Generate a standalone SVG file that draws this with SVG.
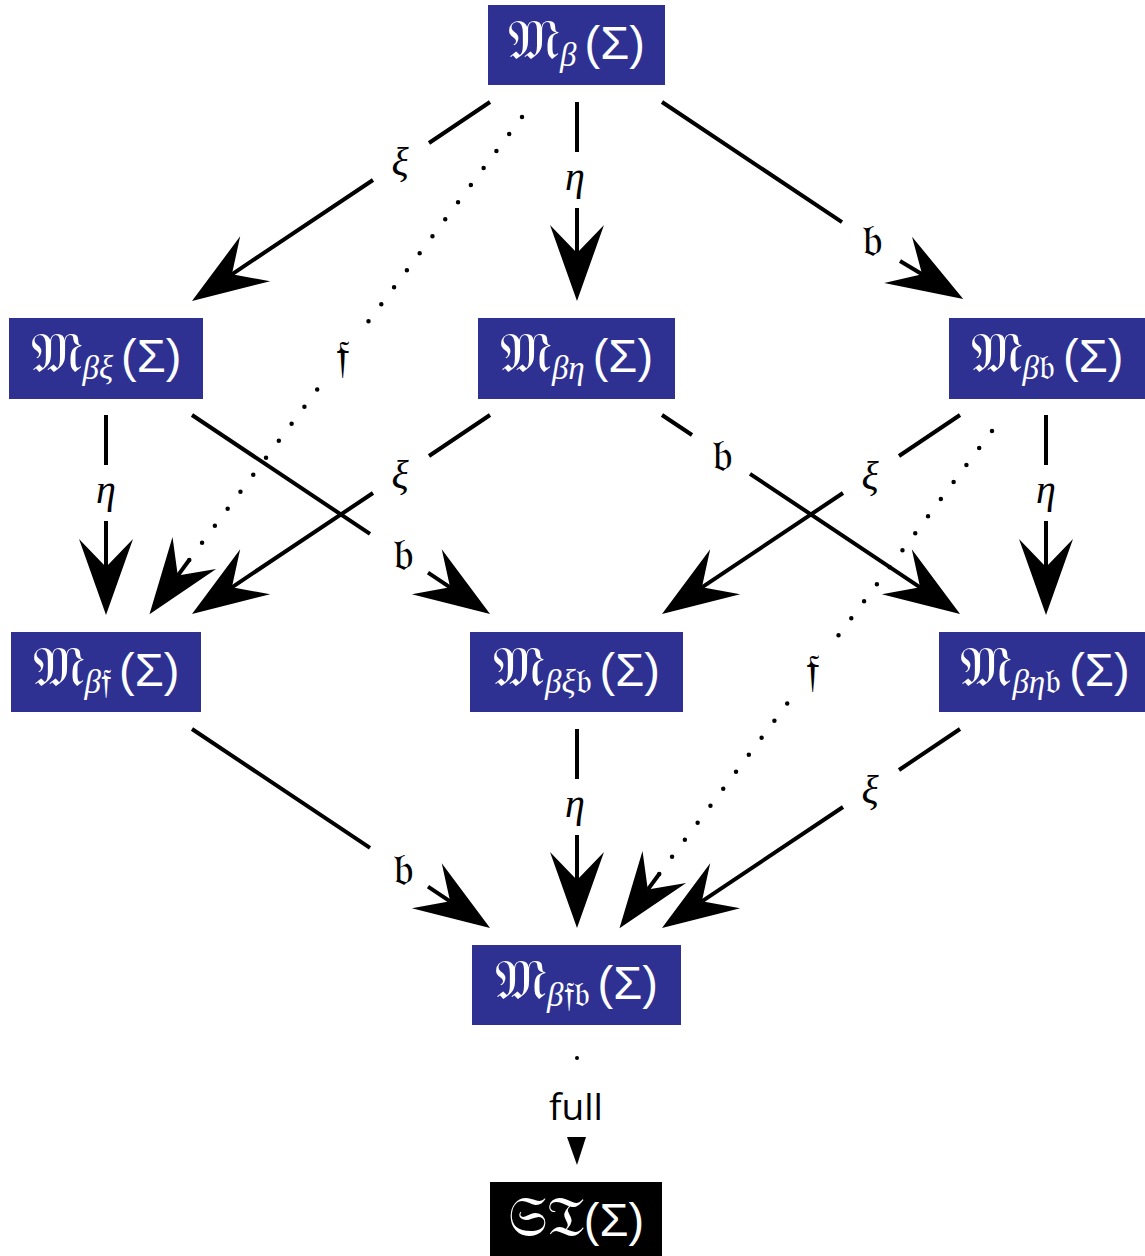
<svg xmlns="http://www.w3.org/2000/svg" width="1145" height="1256" viewBox="0 0 1145 1256">
  <style>
    .box { fill: #2e3192; }
    .box-dark { fill: #000000; }
    .nt { fill: #ffffff; font-family: "DejaVu Serif", "Liberation Serif", serif; font-size: 44px; text-anchor: middle; }
    .frak { font-family: "DejaVu Serif", "DejaVu Sans", serif; font-size: 56px; }
    .sub { font-family: "Liberation Serif", serif; font-style: italic; font-size: 33px; }
    .subf { font-family: "DejaVu Serif", serif; font-size: 35px; font-style: normal; }
    .sig { font-family: "Liberation Sans", sans-serif; font-size: 47px; }
    .edge { fill: none; stroke: #000000; stroke-width: 4; }
    .dots { fill: none; stroke: #000000; stroke-width: 4.5; stroke-linecap: round; stroke-dasharray: 0 21.3; }
    .lbl { font-family: "Liberation Serif", serif; font-style: italic; font-size: 40px; text-anchor: middle; fill: #000000; }
    .lblf { font-family: "DejaVu Serif", serif; font-size: 46px; text-anchor: middle; fill: #000000; }
    .full { font-family: "Open Sans", sans-serif; font-size: 37px; text-anchor: middle; fill: #000000; }
  </style>
  <defs>
    <!-- swallow-tail arrowhead; path end sits at the notch, tip runs 48px further -->
    <marker id="head" markerUnits="userSpaceOnUse" viewBox="-30 -30 80 60" refX="0" refY="0" markerWidth="80" markerHeight="60" orient="auto">
      <path d="M48,0 L-28,-27 L0,0 L-28,27 Z" fill="#000000"/>
    </marker>
  </defs>

  <g id="connectors">
    <!-- row 1 -> row 2 -->
    <path class="edge" d="M490,102 L429,143 M373,180 L231.9,274.3" marker-end="url(#head)"/>
    <path class="edge" d="M577,102 L577,152 M577,208 L577,253" marker-end="url(#head)"/>
    <path class="edge" d="M662,102 L842,222.2 M900,261 L922.1,274.3" marker-end="url(#head)"/>
    <!-- dotted: top -> Mbf -->
    <path class="dots" d="M522,117 L368.4,321.5 M317.2,389.6 L189.2,560"/>
    <path class="edge" d="M189.2,560 L177.8,575.6" stroke="none" marker-end="url(#head)"/>

    <!-- row 2 -> row 3 -->
    <path class="edge" d="M106,415 L106,465 M106,521 L106,567" marker-end="url(#head)"/>
    <path class="edge" d="M192,415 L370,533.9 M428,572.6 L450.1,587.3" marker-end="url(#head)"/>
    <path class="edge" d="M490,415 L429,456 M373,493 L231.9,587.3" marker-end="url(#head)"/>
    <path class="edge" d="M662,415 L692,435 M750,473.8 L920.1,587.3" marker-end="url(#head)"/>
    <path class="edge" d="M960,415 L899,456 M843,493 L701.9,587.3" marker-end="url(#head)"/>
    <path class="edge" d="M1046,415 L1046,465 M1046,521 L1046,567" marker-end="url(#head)"/>
    <!-- dotted: Mbb -> Mbfb -->
    <path class="dots" d="M992,431 L838.4,635.5 M787.2,703.6 L659.2,874"/>
    <path class="edge" d="M659.2,874 L647.8,889.6" stroke="none" marker-end="url(#head)"/>

    <!-- row 3 -> row 4 -->
    <path class="edge" d="M192,729 L370,847.9 M428,886.6 L450.1,901.3" marker-end="url(#head)"/>
    <path class="edge" d="M577,729 L577,779 M577,835 L577,880" marker-end="url(#head)"/>
    <path class="edge" d="M960,729 L899,770 M843,807 L701.9,901.3" marker-end="url(#head)"/>

    <!-- Mbfb -> ST -->
    <path d="M577,1058 L577,1070" fill="none" stroke="#000000" stroke-width="4" stroke-linecap="round" stroke-dasharray="0 40"/>
    <polygon points="567,1137 586,1137 577,1165" fill="#000000"/>

    <!-- edge labels -->
    <text class="lbl" x="400" y="175">ξ</text>
    <text class="lbl" x="575" y="190">η</text>
    <text class="lblf" x="872" y="256">𝔟</text>
    <text class="lblf" x="343" y="372">𝔣</text>
    <text class="lbl" x="106" y="503">η</text>
    <text class="lbl" x="400" y="488">ξ</text>
    <text class="lblf" x="403" y="570">𝔟</text>
    <text class="lblf" x="722" y="471">𝔟</text>
    <text class="lbl" x="870" y="489">ξ</text>
    <text class="lbl" x="1046" y="503">η</text>
    <text class="lblf" x="813" y="686">𝔣</text>
    <text class="lbl" x="575" y="817">η</text>
    <text class="lblf" x="403" y="885">𝔟</text>
    <text class="lbl" x="870" y="803">ξ</text>
    <text class="full" x="576" y="1120">full</text>
  </g>

  <g id="node-mb">
    <rect class="box" x="488" y="5" width="177" height="80"/>
    <text class="nt" x="576.5" y="59"><tspan class="frak">𝔐</tspan><tspan class="sub" dy="7">β</tspan><tspan class="sig" dy="-7" dx="8">(Σ)</tspan></text>
  </g>
  <g id="node-mbxi">
    <rect class="box" x="9" y="318" width="194" height="81"/>
    <text class="nt" x="106" y="372"><tspan class="frak">𝔐</tspan><tspan class="sub" dy="7">βξ</tspan><tspan class="sig" dy="-7" dx="8">(Σ)</tspan></text>
  </g>
  <g id="node-mbeta">
    <rect class="box" x="478" y="318" width="197" height="81"/>
    <text class="nt" x="576.5" y="372"><tspan class="frak">𝔐</tspan><tspan class="sub" dy="7">βη</tspan><tspan class="sig" dy="-7" dx="8">(Σ)</tspan></text>
  </g>
  <g id="node-mbb">
    <rect class="box" x="949" y="318" width="196" height="81"/>
    <text class="nt" x="1047" y="372"><tspan class="frak">𝔐</tspan><tspan class="sub" dy="7">β</tspan><tspan class="subf">𝔟</tspan><tspan class="sig" dy="-7" dx="8">(Σ)</tspan></text>
  </g>
  <g id="node-mbf">
    <rect class="box" x="11" y="632" width="190" height="80"/>
    <text class="nt" x="106" y="686"><tspan class="frak">𝔐</tspan><tspan class="sub" dy="7">β</tspan><tspan class="subf">𝔣</tspan><tspan class="sig" dy="-7" dx="8">(Σ)</tspan></text>
  </g>
  <g id="node-mbxib">
    <rect class="box" x="470" y="632" width="213" height="80"/>
    <text class="nt" x="576.5" y="686"><tspan class="frak">𝔐</tspan><tspan class="sub" dy="7">βξ</tspan><tspan class="subf">𝔟</tspan><tspan class="sig" dy="-7" dx="8">(Σ)</tspan></text>
  </g>
  <g id="node-mbetab">
    <rect class="box" x="939" y="632" width="213" height="80"/>
    <text class="nt" x="1045" y="686"><tspan class="frak">𝔐</tspan><tspan class="sub" dy="7">βη</tspan><tspan class="subf">𝔟</tspan><tspan class="sig" dy="-7" dx="8">(Σ)</tspan></text>
  </g>
  <g id="node-mbfb">
    <rect class="box" x="472" y="945" width="209" height="80"/>
    <text class="nt" x="576.5" y="999"><tspan class="frak">𝔐</tspan><tspan class="sub" dy="7">β</tspan><tspan class="subf">𝔣𝔟</tspan><tspan class="sig" dy="-7" dx="8">(Σ)</tspan></text>
  </g>
  <g id="node-st">
    <rect class="box-dark" x="490" y="1182" width="172" height="80"/>
    <text class="nt" x="576" y="1236"><tspan class="frak" font-size="52">𝔖𝔗</tspan><tspan class="sig">(Σ)</tspan></text>
  </g>
</svg>
